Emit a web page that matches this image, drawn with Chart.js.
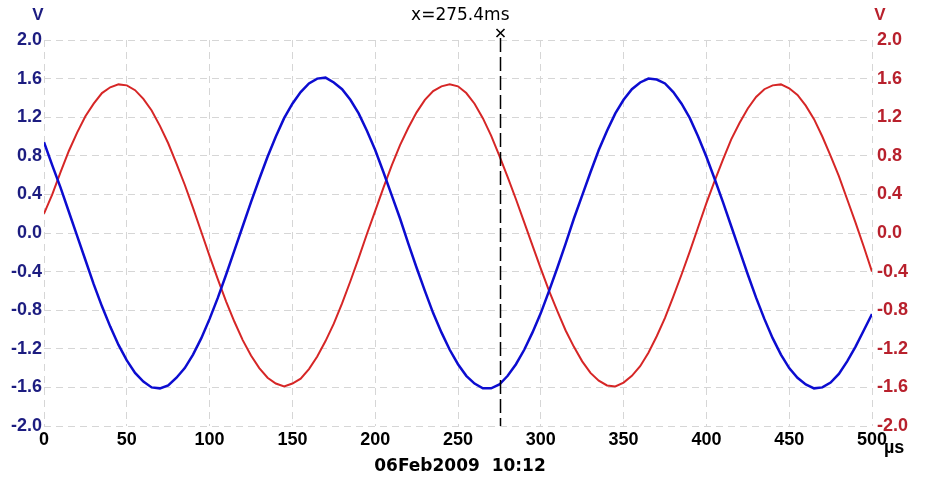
<!DOCTYPE html>
<html>
<head>
<meta charset="utf-8">
<script src="https://cdn.jsdelivr.net/npm/chart.js@4"></script>
<style>
  html, body { margin: 0; padding: 0; background: #fff; }
  #wrap { width: 925px; height: 487px; position: relative; }
</style>
</head>
<body>
<div id="wrap"><canvas id="scope"></canvas></div>
<script>
// sample spacing in µs (samples start at 0)
const sampleStep = 5;

// channel A (blue, left axis), volts
const blueVolts = [
    0.94, 0.70, 0.47, 0.22, -0.03, -0.28, -0.53, -0.76, -0.97, -1.16,
    -1.32, -1.45, -1.54, -1.60, -1.61, -1.58, -1.50, -1.40, -1.26, -1.09,
    -0.89, -0.67, -0.43, -0.18, 0.07, 0.32, 0.56, 0.79, 1.00, 1.19,
    1.34, 1.46, 1.55, 1.60, 1.61, 1.56, 1.49, 1.38, 1.24, 1.06,
    0.86, 0.63, 0.39, 0.15, -0.11, -0.36, -0.60, -0.83, -1.03, -1.21,
    -1.36, -1.48, -1.56, -1.61, -1.61, -1.57, -1.48, -1.36, -1.21, -1.03,
    -0.83, -0.60, -0.36, -0.11, 0.15, 0.39, 0.63, 0.86, 1.06, 1.24,
    1.38, 1.49, 1.56, 1.60, 1.59, 1.55, 1.46, 1.34, 1.19, 1.00,
    0.79, 0.56, 0.32, 0.07, -0.18, -0.43, -0.67, -0.89, -1.09, -1.26,
    -1.40, -1.50, -1.57, -1.61, -1.60, -1.55, -1.46, -1.33, -1.18, -1.01,
    -0.84
];

// channel B (red, right axis), volts
const redVolts = [
    0.20, 0.40, 0.63, 0.85, 1.04, 1.21, 1.34, 1.45, 1.51, 1.54,
    1.53, 1.48, 1.39, 1.27, 1.11, 0.93, 0.72, 0.50, 0.26, 0.01,
    -0.24, -0.48, -0.71, -0.92, -1.11, -1.27, -1.40, -1.50, -1.56, -1.59,
    -1.56, -1.51, -1.41, -1.28, -1.12, -0.94, -0.73, -0.50, -0.26, -0.01,
    0.23, 0.47, 0.70, 0.91, 1.09, 1.25, 1.38, 1.47, 1.52, 1.54,
    1.52, 1.45, 1.34, 1.19, 1.01, 0.80, 0.58, 0.35, 0.11, -0.13,
    -0.37, -0.60, -0.81, -1.01, -1.18, -1.33, -1.45, -1.53, -1.58, -1.59,
    -1.55, -1.48, -1.38, -1.24, -1.07, -0.88, -0.66, -0.43, -0.19, 0.06,
    0.31, 0.54, 0.76, 0.97, 1.14, 1.29, 1.41, 1.49, 1.53, 1.54,
    1.50, 1.43, 1.32, 1.18, 1.00, 0.80, 0.59, 0.35, 0.11, -0.14,
    -0.40
];

const voltTicks = [-2.0, -1.6, -1.2, -0.8, -0.4, 0.0, 0.4, 0.8, 1.2, 1.6, 2.0];
const timeTicks = [0, 50, 100, 150, 200, 250, 300, 350, 400, 450, 500];
const cursorTime = 275.4;
const cursorLabel = 'x=275.4ms';
const dateLabel = '06Feb2009  10:12';

const tickFont = { family: 'Liberation Sans, Arial, sans-serif', size: 18, weight: 'bold' };
const gridColor = '#d6d6d6';

function toPoints(vals) {
    return vals.map((v, i) => ({ x: i * sampleStep, y: v }));
}

function voltLabel(v) {
    if (Math.abs(v) < 1e-9) return '0.0';
    return v.toFixed(1);
}

// extra text + the time cursor
const scopeDecor = {
    id: 'scopeDecor',
    afterDatasetsDraw(chart) {
        const ctx = chart.ctx;
        const xs = chart.scales.x;
        const area = chart.chartArea;
        ctx.save();

        // cursor line
        const cx = Math.round(xs.getPixelForValue(cursorTime)) + 0.5;
        ctx.strokeStyle = '#000';
        ctx.lineWidth = 1.5;
        ctx.setLineDash([14, 5]);
        ctx.beginPath();
        ctx.moveTo(cx, 38);
        ctx.lineTo(cx, area.bottom);
        ctx.stroke();
        ctx.setLineDash([]);

        // cursor x mark
        ctx.lineWidth = 1.6;
        ctx.beginPath();
        ctx.moveTo(cx - 4, 29); ctx.lineTo(cx + 4, 37);
        ctx.moveTo(cx + 4, 29); ctx.lineTo(cx - 4, 37);
        ctx.stroke();

        ctx.fillStyle = '#000';
        ctx.font = '17px "DejaVu Sans", sans-serif';
        ctx.textAlign = 'right';
        ctx.textBaseline = 'middle';
        ctx.fillText(cursorLabel, cx + 9, 16);

        // units
        ctx.font = 'bold 17px "Liberation Sans", Arial, sans-serif';
        ctx.textAlign = 'center';
        ctx.fillStyle = '#1c1c80';
        ctx.fillText('V', 38, 15);
        ctx.fillStyle = '#b8202c';
        ctx.fillText('V', 880, 15);

        ctx.fillStyle = '#000';
        ctx.font = 'bold 18px "Liberation Sans", Arial, sans-serif';
        ctx.textAlign = 'left';
        ctx.fillText('\u00b5s', 884, 448);

        ctx.textAlign = 'center';
        ctx.font = 'bold 17px "DejaVu Sans", sans-serif';
        ctx.fillText(dateLabel, 460, 467);

        ctx.restore();
    }
};

const ctx = document.getElementById('scope').getContext('2d');
new Chart(ctx, {
    type: 'line',
    data: {
        datasets: [
            { label: 'A', data: toPoints(blueVolts), yAxisID: 'y', borderColor: '#0c0cd0', borderWidth: 2.5, pointRadius: 0, tension: 0 },
            { label: 'B', data: toPoints(redVolts), yAxisID: 'y2', borderColor: '#d62626', borderWidth: 2, pointRadius: 0, tension: 0 }
        ]
    },
    options: {
        responsive: true,
        maintainAspectRatio: false,
        animation: false,
        layout: { padding: { top: 40, left: 0, right: 0, bottom: 0 } },
        plugins: {
            legend: { display: false },
            tooltip: { enabled: false }
        },
        scales: {
            x: {
                type: 'linear',
                min: 0, max: 500,
                afterBuildTicks: s => { s.ticks = timeTicks.map(v => ({ value: v })); },
                afterFit: s => { s.height = 61; },
                ticks: { color: '#000', font: tickFont, padding: 3, maxRotation: 0 },
                grid: { color: gridColor, drawTicks: false },
                border: { display: false, dash: [7, 5] }
            },
            y: {
                position: 'left',
                min: -2, max: 2,
                afterBuildTicks: s => { s.ticks = voltTicks.map(v => ({ value: v })); },
                afterFit: s => { s.width = 44; },
                ticks: { color: '#1c1c80', font: tickFont, padding: 2, callback: voltLabel },
                grid: { color: gridColor, drawTicks: false },
                border: { display: false, dash: [7, 5] }
            },
            y2: {
                position: 'right',
                min: -2, max: 2,
                afterBuildTicks: s => { s.ticks = voltTicks.map(v => ({ value: v })); },
                afterFit: s => { s.width = 53; },
                ticks: { color: '#b8202c', font: tickFont, padding: 5, callback: voltLabel },
                grid: { drawOnChartArea: false, drawTicks: false },
                border: { display: false }
            }
        }
    },
    plugins: [scopeDecor]
});
</script>
</body>
</html>
